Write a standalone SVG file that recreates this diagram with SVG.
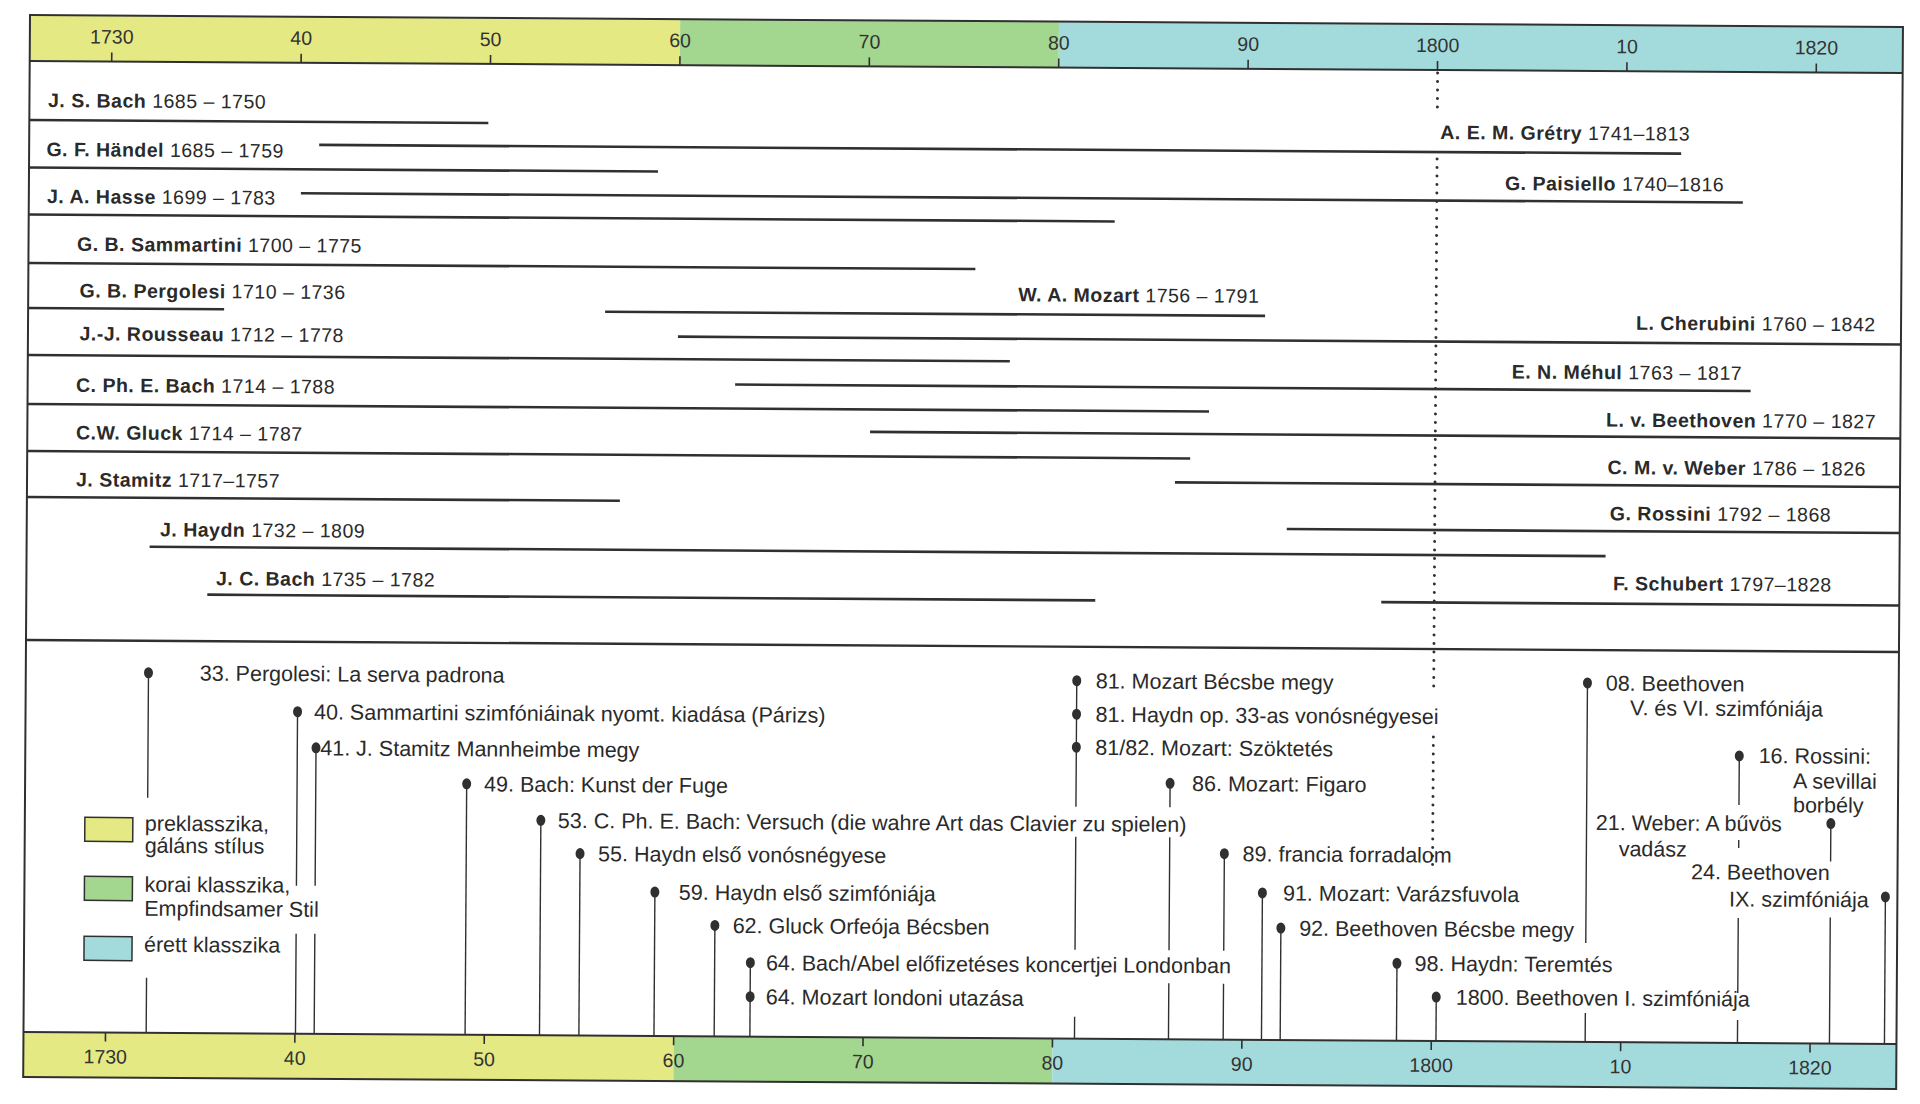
<svg xmlns="http://www.w3.org/2000/svg" width="1920" height="1104" viewBox="0 0 1920 1104">
  <style>
    .line { stroke:#303030; fill:none; }
    .frame { stroke:#303030; stroke-width:2; fill:none; }
    .life { stroke:#303030; stroke-width:2.6; }
    .stem { stroke:#303030; stroke-width:1.4; }
    .tick { stroke:#303030; stroke-width:1.6; }
    .dotted { stroke:#303030; stroke-width:3; stroke-dasharray:0 8.5; stroke-linecap:round; fill:none; }
    .dot { fill:#303030; }
    .yr { font-family:"Liberation Sans", Arial, sans-serif; font-size:19.5px; fill:#333; text-anchor:middle; }
    .cn { font-family:"Liberation Sans", Arial, sans-serif; font-size:19.5px; letter-spacing:0.5px; fill:#2a2a2a; }
    .nm { font-weight:bold; }
    .ev { font-family:"Liberation Sans", Arial, sans-serif; font-size:21.5px; fill:#2a2a2a; }
    .pre { fill:#e4e983; }
    .early { fill:#a3d68e; }
    .mature { fill:#a3dbdd; }
    .swatch { stroke:#303030; stroke-width:1.5; }
  </style>

  <rect width="1920" height="1104" fill="#ffffff"/>

  <g transform="rotate(0.367 30 15)">
    <!-- top year scale -->
    <g id="axis-top">
      <rect class="pre" x="30" y="15" width="650.2" height="46"/>
      <rect class="early" x="680.2" y="15" width="378.8" height="46"/>
      <rect class="mature" x="1059" y="15" width="844" height="46"/>
      <line class="frame" x1="30" y1="61" x2="1903" y2="61"/>
      <g class="tick">
        <line x1="112" y1="52" x2="112" y2="61"/>
        <line x1="301.4" y1="52" x2="301.4" y2="61"/>
        <line x1="490.8" y1="52" x2="490.8" y2="61"/>
        <line x1="680.2" y1="52" x2="680.2" y2="61"/>
        <line x1="869.6" y1="52" x2="869.6" y2="61"/>
        <line x1="1059" y1="52" x2="1059" y2="61"/>
        <line x1="1248.4" y1="52" x2="1248.4" y2="61"/>
        <line x1="1437.8" y1="52" x2="1437.8" y2="61"/>
        <line x1="1627.2" y1="52" x2="1627.2" y2="61"/>
        <line x1="1816.6" y1="52" x2="1816.6" y2="61"/>
      </g>
      <text class="yr" x="112" y="43">1730</text>
      <text class="yr" x="301.4" y="43">40</text>
      <text class="yr" x="490.8" y="43">50</text>
      <text class="yr" x="680.2" y="43">60</text>
      <text class="yr" x="869.6" y="43">70</text>
      <text class="yr" x="1059" y="43">80</text>
      <text class="yr" x="1248.4" y="43">90</text>
      <text class="yr" x="1437.8" y="43">1800</text>
      <text class="yr" x="1627.2" y="43">10</text>
      <text class="yr" x="1816.6" y="43">1820</text>
    </g>

    <!-- bottom year scale -->
    <g id="axis-bottom">
      <rect class="pre" x="30" y="1032" width="650.2" height="45"/>
      <rect class="early" x="680.2" y="1032" width="378.8" height="45"/>
      <rect class="mature" x="1059" y="1032" width="844" height="45"/>
      <line class="frame" x1="30" y1="1032" x2="1903" y2="1032"/>
      <g class="tick">
        <line x1="112" y1="1032" x2="112" y2="1041"/>
        <line x1="301.4" y1="1032" x2="301.4" y2="1041"/>
        <line x1="490.8" y1="1032" x2="490.8" y2="1041"/>
        <line x1="680.2" y1="1032" x2="680.2" y2="1041"/>
        <line x1="869.6" y1="1032" x2="869.6" y2="1041"/>
        <line x1="1059" y1="1032" x2="1059" y2="1041"/>
        <line x1="1248.4" y1="1032" x2="1248.4" y2="1041"/>
        <line x1="1437.8" y1="1032" x2="1437.8" y2="1041"/>
        <line x1="1627.2" y1="1032" x2="1627.2" y2="1041"/>
        <line x1="1816.6" y1="1032" x2="1816.6" y2="1041"/>
      </g>
      <text class="yr" x="112" y="1063">1730</text>
      <text class="yr" x="301.4" y="1063">40</text>
      <text class="yr" x="490.8" y="1063">50</text>
      <text class="yr" x="680.2" y="1063">60</text>
      <text class="yr" x="869.6" y="1063">70</text>
      <text class="yr" x="1059" y="1063">80</text>
      <text class="yr" x="1248.4" y="1063">90</text>
      <text class="yr" x="1437.8" y="1063">1800</text>
      <text class="yr" x="1627.2" y="1063">10</text>
      <text class="yr" x="1816.6" y="1063">1820</text>
    </g>

    <!-- outer frame and section divider -->
    <rect class="frame" x="30" y="15" width="1873" height="1062"/>
    <line class="frame" x1="30" y1="640" x2="1903" y2="640" style="stroke-width:2.4"/>

    <!-- the year 1800 marker -->
    <g id="marker-1800">
      <line class="dotted" x1="1438" y1="64" x2="1438" y2="106"/>
      <line class="dotted" x1="1438" y1="150" x2="1438" y2="681"/>
      <line class="dotted" x1="1438" y1="728" x2="1438" y2="856"/>
    </g>

    <!-- composers: name, dates and lifespan bar -->
    <g id="composers">
      <g id="c-js-bach"><text class="cn" x="48.6" y="107"><tspan class="nm">J. S. Bach</tspan> 1685 – 1750</text><line class="life" x1="30" y1="120" x2="489" y2="120"/></g>
      <g id="c-gretry"><text class="cn" x="1441" y="130"><tspan class="nm">A. E. M. Grétry</tspan> 1741–1813</text><line class="life" x1="320" y1="143" x2="1682" y2="143"/></g>
      <g id="c-handel"><text class="cn" x="47.3" y="156"><tspan class="nm">G. F. Händel</tspan> 1685 – 1759</text><line class="life" x1="30" y1="167.5" x2="659" y2="167.5"/></g>
      <g id="c-paisiello"><text class="cn" x="1506" y="180.5"><tspan class="nm">G. Paisiello</tspan> 1740–1816</text><line class="life" x1="302" y1="191.5" x2="1744" y2="191.5"/></g>
      <g id="c-hasse"><text class="cn" x="48.2" y="203"><tspan class="nm">J. A. Hasse</tspan> 1699 – 1783</text><line class="life" x1="30" y1="214.5" x2="1116" y2="214.5"/></g>
      <g id="c-sammartini"><text class="cn" x="78.5" y="250.5"><tspan class="nm">G. B. Sammartini</tspan> 1700 – 1775</text><line class="life" x1="30" y1="263" x2="977" y2="263"/></g>
      <g id="c-pergolesi"><text class="cn" x="81.3" y="297"><tspan class="nm">G. B. Pergolesi</tspan> 1710 – 1736</text><line class="life" x1="30" y1="308" x2="226" y2="308"/></g>
      <g id="c-mozart"><text class="cn" x="1020" y="295"><tspan class="nm">W. A. Mozart</tspan> 1756 – 1791</text><line class="life" x1="607" y1="308" x2="1267" y2="308"/></g>
      <g id="c-cherubini"><text class="cn" x="1638" y="319.5"><tspan class="nm">L. Cherubini</tspan> 1760 – 1842</text><line class="life" x1="680" y1="332.5" x2="1903" y2="332.5"/></g>
      <g id="c-rousseau"><text class="cn" x="81.5" y="340"><tspan class="nm">J.-J. Rousseau</tspan> 1712 – 1778</text><line class="life" x1="30" y1="355" x2="1012" y2="355"/></g>
      <g id="c-mehul"><text class="cn" x="1514" y="369"><tspan class="nm">E. N. Méhul</tspan> 1763 – 1817</text><line class="life" x1="737.5" y1="380" x2="1753" y2="380"/></g>
      <g id="c-cpe-bach"><text class="cn" x="78.4" y="391.5"><tspan class="nm">C. Ph. E. Bach</tspan> 1714 – 1788</text><line class="life" x1="30" y1="404" x2="1211.5" y2="404"/></g>
      <g id="c-beethoven"><text class="cn" x="1608.6" y="416.5"><tspan class="nm">L. v. Beethoven</tspan> 1770 – 1827</text><line class="life" x1="872.7" y1="426.5" x2="1903" y2="426.5"/></g>
      <g id="c-gluck"><text class="cn" x="78.7" y="439"><tspan class="nm">C.W. Gluck</tspan> 1714 – 1787</text><line class="life" x1="30" y1="451" x2="1193" y2="451"/></g>
      <g id="c-weber"><text class="cn" x="1610.4" y="464"><tspan class="nm">C. M. v. Weber</tspan> 1786 – 1826</text><line class="life" x1="1178" y1="475" x2="1903" y2="475"/></g>
      <g id="c-stamitz"><text class="cn" x="79" y="486"><tspan class="nm">J. Stamitz</tspan> 1717–1757</text><line class="life" x1="30" y1="497" x2="623" y2="497"/></g>
      <g id="c-rossini"><text class="cn" x="1613" y="510"><tspan class="nm">G. Rossini</tspan> 1792 – 1868</text><line class="life" x1="1290" y1="521" x2="1903" y2="521"/></g>
      <g id="c-haydn"><text class="cn" x="163.3" y="535.5"><tspan class="nm">J. Haydn</tspan> 1732 – 1809</text><line class="life" x1="153" y1="546" x2="1609" y2="546"/></g>
      <g id="c-jc-bach"><text class="cn" x="219.6" y="584"><tspan class="nm">J. C. Bach</tspan> 1735 – 1782</text><line class="life" x1="211" y1="593.5" x2="1099" y2="593.5"/></g>
      <g id="c-schubert"><text class="cn" x="1616.6" y="580"><tspan class="nm">F. Schubert</tspan> 1797–1828</text><line class="life" x1="1385" y1="593.5" x2="1903" y2="593.5"/></g>
    </g>

    <!-- legend of style periods -->
    <g id="legend">
      <g id="legend-pre"><rect class="pre swatch" x="90" y="817" width="48" height="24"/><text class="ev" x="150" y="830">preklasszika,</text><text class="ev" x="150" y="852">gáláns stílus</text></g>
      <g id="legend-early"><rect class="early swatch" x="90" y="876" width="48" height="24"/><text class="ev" x="150" y="891">korai klasszika,</text><text class="ev" x="150" y="915">Empfindsamer Stil</text></g>
      <g id="legend-mature"><rect class="mature swatch" x="90" y="936" width="48" height="24"/><text class="ev" x="150" y="951">érett klasszika</text></g>
    </g>

    <!-- stems from each event down to the time axis -->
    <g id="connectors" class="stem">
      <path d="M152.7 672V797M152.7 977V1032"/>
      <path d="M302 710V884M302 932V1032"/>
      <path d="M320.7 746V884M320.7 932V1032"/>
      <path d="M471.6 781V1032"/>
      <path d="M546 817V1032"/>
      <path d="M585.4 850V1032"/>
      <path d="M660.5 888V1032"/>
      <path d="M720.7 921V1032"/>
      <path d="M756.4 958V1032"/>
      <path d="M1081 674V800M1081 830V943M1081 1010V1032"/>
      <path d="M1175 776V800M1175 830V943M1175 976V1032"/>
      <path d="M1229.7 846V943M1229.7 976V1032"/>
      <path d="M1268 885V1032"/>
      <path d="M1286.7 920V1032"/>
      <path d="M1403 954.5V1032"/>
      <path d="M1442.5 988V1032"/>
      <path d="M1591.7 673V933M1591.7 1003V1032"/>
      <path d="M1744 745V794M1744 829V837M1744 907V982M1744 1009V1032"/>
      <path d="M1836 812V850M1836 906V1032"/>
      <path d="M1891 885V1032"/>
    </g>

    <!-- events -->
    <g id="events">
      <g id="e-1733"><ellipse class="dot" cx="152.7" cy="672" rx="4.5" ry="5.5"/><text class="ev" x="204" y="679.5">33. Pergolesi: La serva padrona</text></g>
      <g id="e-1740"><ellipse class="dot" cx="302" cy="710" rx="4.5" ry="5.5"/><text class="ev" x="318.5" y="717.5">40. Sammartini szimfóniáinak nyomt. kiadása (Párizs)</text></g>
      <g id="e-1741"><ellipse class="dot" cx="320.7" cy="746" rx="4.5" ry="5.5"/><text class="ev" x="325" y="753.5">41. J. Stamitz Mannheimbe megy</text></g>
      <g id="e-1749"><ellipse class="dot" cx="471.6" cy="781" rx="4.5" ry="5.5"/><text class="ev" x="489" y="788.5">49. Bach: Kunst der Fuge</text></g>
      <g id="e-1753"><ellipse class="dot" cx="546" cy="817" rx="4.5" ry="5.5"/><text class="ev" x="563" y="824.5">53. C. Ph. E. Bach: Versuch (die wahre Art das Clavier zu spielen)</text></g>
      <g id="e-1755"><ellipse class="dot" cx="585.4" cy="850" rx="4.5" ry="5.5"/><text class="ev" x="603.5" y="857.5">55. Haydn első vonósnégyese</text></g>
      <g id="e-1759"><ellipse class="dot" cx="660.5" cy="888" rx="4.5" ry="5.5"/><text class="ev" x="684.5" y="895.5">59. Haydn első szimfóniája</text></g>
      <g id="e-1762"><ellipse class="dot" cx="720.7" cy="921" rx="4.5" ry="5.5"/><text class="ev" x="738.5" y="928.5">62. Gluck Orfeója Bécsben</text></g>
      <g id="e-1764a"><ellipse class="dot" cx="756.4" cy="958" rx="4.5" ry="5.5"/><text class="ev" x="772" y="965.5">64. Bach/Abel előfizetéses koncertjei Londonban</text></g>
      <g id="e-1764b"><ellipse class="dot" cx="756.4" cy="992" rx="4.5" ry="5.5"/><text class="ev" x="772" y="999.5">64. Mozart londoni utazása</text></g>
      <g id="e-1781a"><ellipse class="dot" cx="1081" cy="674" rx="4.5" ry="5.5"/><text class="ev" x="1100" y="681.5">81. Mozart Bécsbe megy</text></g>
      <g id="e-1781b"><ellipse class="dot" cx="1081" cy="707.5" rx="4.5" ry="5.5"/><text class="ev" x="1100" y="715">81. Haydn op. 33-as vonósnégyesei</text></g>
      <g id="e-1781c"><ellipse class="dot" cx="1081" cy="740.5" rx="4.5" ry="5.5"/><text class="ev" x="1100" y="748">81/82. Mozart: Szöktetés</text></g>
      <g id="e-1786"><ellipse class="dot" cx="1175" cy="776" rx="4.5" ry="5.5"/><text class="ev" x="1197" y="783.5">86. Mozart: Figaro</text></g>
      <g id="e-1789"><ellipse class="dot" cx="1229.7" cy="846" rx="4.5" ry="5.5"/><text class="ev" x="1248" y="853.5">89. francia forradalom</text></g>
      <g id="e-1791"><ellipse class="dot" cx="1268" cy="885" rx="4.5" ry="5.5"/><text class="ev" x="1288.6" y="892.5">91. Mozart: Varázsfuvola</text></g>
      <g id="e-1792"><ellipse class="dot" cx="1286.7" cy="920" rx="4.5" ry="5.5"/><text class="ev" x="1305" y="927.5">92. Beethoven Bécsbe megy</text></g>
      <g id="e-1798"><ellipse class="dot" cx="1403" cy="954.5" rx="4.5" ry="5.5"/><text class="ev" x="1420.7" y="962">98. Haydn: Teremtés</text></g>
      <g id="e-1800"><ellipse class="dot" cx="1442.5" cy="988" rx="4.5" ry="5.5"/><text class="ev" x="1462" y="995.5">1800. Beethoven I. szimfóniája</text></g>
      <g id="e-1808"><ellipse class="dot" cx="1591.7" cy="673" rx="4.5" ry="5.5"/><text class="ev" x="1610" y="680.5">08. Beethoven</text><text class="ev" x="1634.5" y="705">V. és VI. szimfóniája</text></g>
      <g id="e-1816"><ellipse class="dot" cx="1744" cy="745" rx="4.5" ry="5.5"/><text class="ev" x="1763.4" y="752">16. Rossini:</text><text class="ev" x="1798" y="777">A sevillai</text><text class="ev" x="1798" y="801">borbély</text></g>
      <g id="e-1821"><ellipse class="dot" cx="1836" cy="812" rx="4.5" ry="5.5"/><text class="ev" x="1601" y="820">21. Weber: A bűvös</text><text class="ev" x="1624" y="846">vadász</text></g>
      <g id="e-1824"><ellipse class="dot" cx="1891" cy="885" rx="4.5" ry="5.5"/><text class="ev" x="1696.5" y="868.5">24. Beethoven</text><text class="ev" x="1734.7" y="895.5">IX. szimfóniája</text></g>
    </g>
  </g>
</svg>
